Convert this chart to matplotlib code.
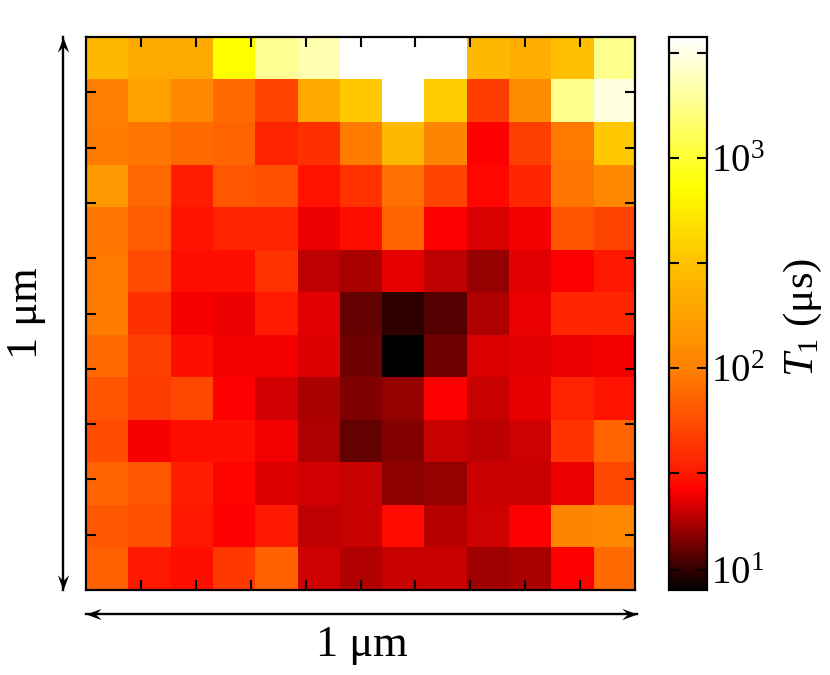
import matplotlib
matplotlib.use('Agg')
import matplotlib.pyplot as plt
from matplotlib.colors import LinearSegmentedColormap, LogNorm
from matplotlib.path import Path

plt.rcParams['font.family'] = ['Liberation Serif', 'DejaVu Serif']
plt.rcParams['mathtext.fontset'] = 'custom'
plt.rcParams['mathtext.rm'] = 'Liberation Serif'
plt.rcParams['mathtext.it'] = 'Liberation Serif:italic'

# T1 in microseconds, top row first
row_0 = [274, 213, 213, 735, 1870, 2275, 3790, 3790, 3790, 274, 229, 307, 1800]
row_1 = [100, 178, 115, 79, 50, 206, 352, 3790, 372, 46, 124, 1800, 3050]
row_2 = [95, 87, 78, 72, 35, 40, 95, 274, 107, 26, 48, 91, 352]
row_3 = [154, 76, 32, 63, 58, 30, 41, 83, 50, 27.5, 36, 87, 115]
row_4 = [87, 66, 30, 34.5, 35, 24.3, 29, 72, 26, 22, 25, 60.5, 50]
row_5 = [91, 55, 29, 29, 41, 19.8, 18, 23.6, 19.8, 16.7, 23.1, 26, 31]
row_6 = [95, 40, 25.5, 24.3, 31.5, 23.1, 13.4, 10.7, 12.7, 18.5, 23.9, 36, 36]
row_7 = [79, 48, 29, 24.6, 25, 22.7, 14.1, 8.7, 14.1, 22.4, 23.1, 24.3, 25]
row_8 = [60.5, 46, 52, 26, 21.6, 18.2, 15.1, 16.7, 26, 20.5, 23.6, 34.5, 30]
row_9 = [55, 25.6, 29, 29, 25, 18.5, 13.4, 15.3, 20.5, 19.5, 21.2, 41, 72]
row_10 = [72, 63, 33, 27, 22.7, 21.6, 20.5, 16.1, 16.7, 20.9, 20.9, 23.9, 52]
row_11 = [63, 58, 31, 26, 31, 19.8, 20.5, 28, 19.2, 21.2, 26, 107, 115]
row_12 = [69, 31, 29, 44, 69, 21.2, 18.8, 20.5, 20.5, 17.3, 18.2, 26, 79]
t1_rows = [row_0, row_1, row_2, row_3, row_4, row_5, row_6, row_7, row_8,
           row_9, row_10, row_11, row_12]

cbar_ticks = [10.8, 31.6, 100, 316, 1000, 3162]
cbar_labels = ['$10^1$', '', '$10^2$', '', '$10^3$', '']
grid_ticks = [1.3, 2.6, 3.9, 5.2, 6.5, 7.8, 9.1, 10.4, 11.7]


def px(x, y):
    # pixel position in the 830x675 picture to figure fraction
    return x / 830, 1 - y / 675


def add_arrow(fig, start, end, marker_start, marker_end):
    x0, y0 = px(*start)
    x1, y1 = px(*end)
    fig.add_artist(plt.Line2D([x0, x1], [y0, y1], transform=fig.transFigure,
                              color='black', lw=1.7))
    fig.add_artist(plt.Line2D([x0], [y0], transform=fig.transFigure, marker=marker_start,
                              ms=22, color='black', mew=0, ls='none'))
    fig.add_artist(plt.Line2D([x1], [y1], transform=fig.transFigure, marker=marker_end,
                              ms=22, color='black', mew=0, ls='none'))


def head(dx, dy):
    # concave arrow head, tip at the origin, pointing along (dx, dy)
    nx, ny = -dy, dx
    verts = [(0, 0),
             (-dx + 0.37 * nx, -dy + 0.37 * ny),
             (-0.62 * dx, -0.62 * dy),
             (-dx - 0.37 * nx, -dy - 0.37 * ny),
             (0, 0)]
    return Path(verts, closed=True)


def main():
    colors = [(0.0, '#000000'), (0.18, '#ff0000'), (0.213, '#ff1c00'), (0.40, '#ff8000'),
              (0.59, '#ffc000'), (0.729, '#ffff00'), (1.0, '#ffffff')]
    t1_cmap = LinearSegmentedColormap.from_list('t1', colors, N=512)
    norm = LogNorm(vmin=8.7, vmax=3790)

    fig = plt.figure(figsize=(8.3, 6.75), dpi=100)
    ax = fig.add_axes([86 / 830, 1 - 590 / 675, 549 / 830, 553 / 675])
    im = ax.imshow(t1_rows, cmap=t1_cmap, norm=norm, extent=(0, 13, 13, 0),
                   aspect='auto', interpolation='nearest')
    ax.set_xticks(grid_ticks)
    ax.set_yticks(grid_ticks)
    ax.tick_params(direction='in', length=7.5, width=1.5, top=True, right=True,
                   labelbottom=False, labelleft=False)
    for spine in ax.spines.values():
        spine.set_linewidth(1.6)

    cax = fig.add_axes([669 / 830, 1 - 590 / 675, 38 / 830, 553 / 675])
    cbar = fig.colorbar(im, cax=cax)
    cbar.outline.set_linewidth(1.6)
    cax.minorticks_off()
    cax.set_yticks(cbar_ticks)
    cax.set_yticklabels(cbar_labels, fontsize=28)
    cax.tick_params(direction='in', length=7.5, width=1.5, left=True, right=True, pad=3)

    fig.text(*px(362, 645), '1 μm', fontsize=32, ha='center', va='center')
    fig.text(*px(26, 313), '1 μm', fontsize=32, ha='center', va='center', rotation=90)
    fig.text(*px(803, 317), r'$T_1$ (μs)', fontsize=31, ha='center', va='center', rotation=90)

    add_arrow(fig, (63, 37), (63, 590), head(0, 1), head(0, -1))
    add_arrow(fig, (86, 614), (637, 614), head(-1, 0), head(1, 0))

    fig.savefig('out.png', dpi=100)


if __name__ == '__main__':
    main()
